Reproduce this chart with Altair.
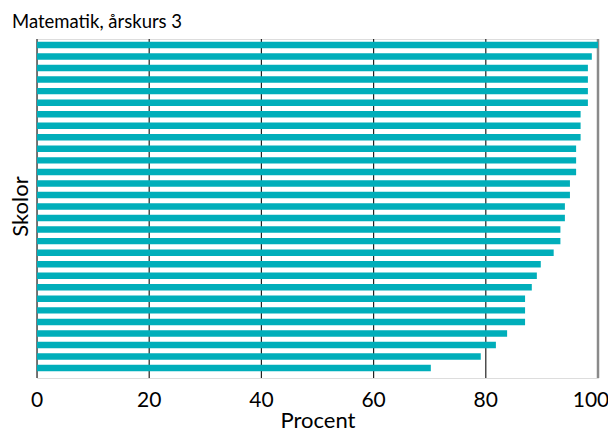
import altair as alt
import pandas as pd

values = [100, 98.9, 98.2, 98.2, 98.2, 98.2, 96.9, 96.9, 96.9, 96.1,
          96.1, 96.1, 95.0, 95.0, 94.1, 94.1, 93.3, 93.3, 92.1, 89.8,
          89.1, 88.2, 87.0, 87.0, 87.0, 83.8, 81.8, 79.1, 70.2]
schools = [f"Skola {i+1:02d}" for i in range(len(values))]
grid_vals = [0, 20, 40, 60, 80, 100]
grid_kind = ["dark", "dark", "dark", "dark", "dark", "end"]

df = pd.DataFrame({"skola": schools, "procent": values})
gdf = pd.DataFrame({"v": grid_vals, "kind": grid_kind})

FONT = "Lato"

xscale = alt.Scale(domain=[0, 100], nice=False, zero=True)

grid = alt.Chart(gdf).mark_rule().encode(
    x=alt.X("v:Q", scale=xscale),
    color=alt.Color("kind:N", scale=alt.Scale(domain=["dark", "end"], range=["#222222", "#8a8a8a"]), legend=None),
    strokeWidth=alt.StrokeWidth("kind:N", scale=alt.Scale(domain=["dark", "end"], range=[1.2, 2.5]), legend=None),
)

# tick labels drawn as text so the rightmost one stays inside the page
label_base = alt.Chart(gdf).encode(
    x=alt.X("v:Q", scale=xscale),
    y=alt.value(368),
    text=alt.Text("v:Q"),
)
ticklabels = label_base.transform_filter("datum.kind == 'dark'").mark_text(
    font=FONT, fontSize=21, color="#000000", baseline="alphabetic", align="center")
lastlabel = label_base.transform_filter("datum.kind == 'end'").mark_text(
    font=FONT, fontSize=21, color="#000000", baseline="alphabetic", align="center", dx=-7)

bars = alt.Chart(df).mark_bar(color="#00aeba").encode(
    x=alt.X("procent:Q", scale=xscale,
            axis=alt.Axis(values=grid_vals, grid=False, domain=False, ticks=False,
                          labels=False,
                          title="Procent", titleFont=FONT,
                          titleFontSize=22, titleFontWeight="normal", titleColor="#000000",
                          titleBaseline="alphabetic", titleY=49)),
    y=alt.Y("skola:N", sort=None,
            scale=alt.Scale(paddingInner=0.44, paddingOuter=0.41, align=0.29),
            axis=alt.Axis(labels=False, ticks=False, domain=False, title="Skolor",
                          titleFont=FONT, titleFontSize=22, titleFontWeight="normal",
                          titleColor="#000000", titleAngle=-90, titleBaseline="middle",
                          titleAlign="center", titleX=-17, titleY=167)),
)

chart = alt.layer(grid, bars, ticklabels, lastlabel).properties(
    width=561, height=339,
    autosize=alt.AutoSizeParams(type="none"),
    padding={"left": 29, "top": 31, "right": 10, "bottom": 54},
    title=alt.TitleParams("Matematik, årskurs 3", anchor="start", frame="group",
                          font=FONT, fontSize=18.5, fontWeight="normal", color="#000000",
                          baseline="alphabetic", offset=11, dx=-25, dy=20),
).configure_view(stroke=None).configure(background="white")

chart.save("out.html", embed_options={"renderer": "svg", "actions": False})
